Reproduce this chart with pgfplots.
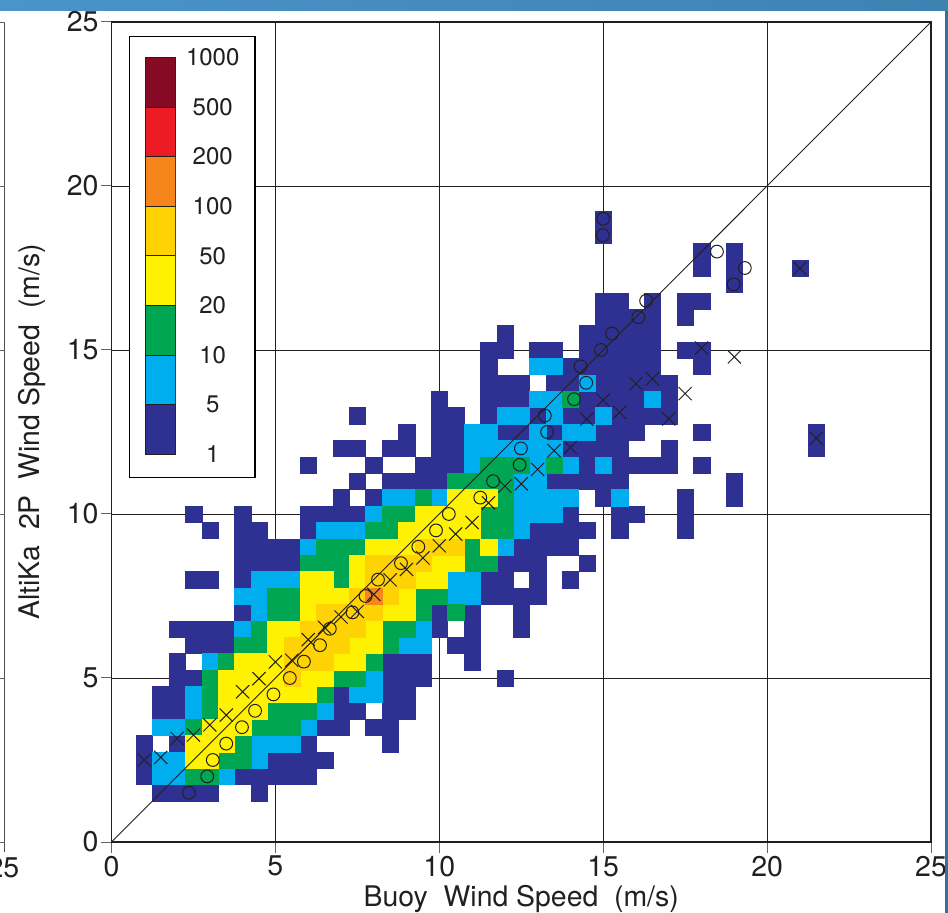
\documentclass[border=0pt]{standalone}
\usepackage{pgfplots}
\pgfplotsset{compat=1.18}
\usepackage{fontspec}
\setmainfont{TeX Gyre Heros}
\definecolor{cB}{HTML}{2E3192}
\definecolor{cC}{HTML}{00AEEF}
\definecolor{cG}{HTML}{00A651}
\definecolor{cY}{HTML}{FFF200}
\definecolor{cO}{HTML}{FFD204}
\definecolor{cR}{HTML}{F7861A}
\definecolor{cRed}{HTML}{ED1C24}
\definecolor{cD}{HTML}{870A24}
\definecolor{ink}{HTML}{231F20}
\definecolor{bandL}{HTML}{4A94C8}
\definecolor{bandR}{HTML}{3E82B2}
\definecolor{bandS}{HTML}{33709E}
\pgfplotsset{cell/.style={only marks,mark=square*,mark size=8.15pt,mark options={draw=#1,fill=#1,line width=0.2pt}}}
\begin{document}
\begin{tikzpicture}
\begin{axis}[
  at={(111.5pt,71pt)},anchor=south west,
  scale only axis,width=819.5pt,height=820pt,
  xmin=0,xmax=25,ymin=0,ymax=25,
  xtick={0,5,...,25},ytick={0,5,...,25},
  grid=major,grid style={ink,line width=0.9pt},
  axis on top,
  axis line style={ink,line width=1.4pt},
  tick align=outside,major tick length=10.5pt,
  tick style={ink!70,line width=1pt},
  xtick pos=bottom,ytick pos=left,
  /pgf/number format/assume math mode=true,
  tick label style={font=\fontsize{28.5}{32}\selectfont,text=ink},
  xticklabel style={yshift=0pt},
  yticklabel style={xshift=1pt},
  xlabel={Buoy\ \ Wind Speed\ \ (m/s)},
  ylabel={AltiKa\ \ 2P\ \ Wind Speed\ \ (m/s)},
  label style={font=\fontsize{28.4}{32}\selectfont,text=ink},
  xlabel style={at={(axis description cs:0.5,0)},anchor=north,yshift=-40pt},
  ylabel style={at={(axis description cs:0,0.5)},anchor=south,yshift=62pt},
]
\addplot[cell=cB] coordinates {
(1.5,1.5)(2,1.5)(2.5,1.5)(3,1.5)(4.5,1.5)
(1,2)(4,2)(4.5,2)(5,2)(5.5,2)(6,2)
(1,2.5)(5,2.5)(5.5,2.5)(6,2.5)(6.5,2.5)
(1,3)(2,3)(6,3)(8.5,3)
(6.5,3.5)(7,3.5)(8,3.5)(8.5,3.5)
(1.5,4)(2,4)(7,4)(7.5,4)(8.5,4)(9,4)
(1.5,4.5)(2,4.5)(7,4.5)(8.5,4.5)(9,4.5)
(2,5)(2.5,5)(8.5,5)(9,5)(9.5,5)(12,5)
(2,5.5)(8.5,5.5)(9,5.5)(9.5,5.5)(11,5.5)
(2.5,6)(3,6)(3.5,6)(10.5,6)(11,6)
(2,6.5)(2.5,6.5)(3,6.5)(3.5,6.5)(10,6.5)(11,6.5)(12.5,6.5)
(4,7)(10,7)(11,7)(12.5,7)
(11.5,7.5)(12,7.5)(12.5,7.5)(13,7.5)
(2.5,8)(3,8)(4,8)(11.5,8)(12,8)(13,8)(14,8)
(4,8.5)(4.5,8.5)(5,8.5)(5.5,8.5)(12,8.5)(12.5,8.5)(13,8.5)(14.5,8.5)
(4,9)(4.5,9)(5,9)(5.5,9)(12.5,9)(13,9)(13.5,9)(14,9)
(3,9.5)(4,9.5)(4.5,9.5)(6,9.5)(13,9.5)(13.5,9.5)(14,9.5)(14.5,9.5)(15.5,9.5)(17.5,9.5)
(2.5,10)(4,10)(6,10)(6.5,10)(7,10)(7.5,10)(14,10)(15.5,10)(16,10)(17.5,10)
(7,10.5)(8,10.5)(15,10.5)(17.5,10.5)(19,10.5)
(7.5,11)(8.5,11)(9,11)(9.5,11)(10,11)(13.5,11)(14,11)(14.5,11)(15,11)(15.5,11)(19,11)
(6,11.5)(8,11.5)(9.5,11.5)(10,11.5)(10.5,11.5)(14.5,11.5)(15.5,11.5)(16,11.5)(16.5,11.5)(17,11.5)(18,11.5)
(7,12)(7.5,12)(8.5,12)(9,12)(10,12)(10.5,12)(14,12)(14.5,12)(15,12)(15.5,12)(17,12)(21.5,12)
(9,12.5)(10,12.5)(10.5,12.5)(12,12.5)(12.5,12.5)(13.5,12.5)(15,12.5)(15.5,12.5)(16,12.5)(18,12.5)(21.5,12.5)
(7.5,13)(10,13)(10.5,13)(11.5,13)(13,13)(14,13)(14.5,13)(15.5,13)(16,13)(16.5,13)(17,13)
(10,13.5)(11.5,13.5)(12,13.5)(12.5,13.5)(14.5,13.5)(15,13.5)(15.5,13.5)(16,13.5)(17,13.5)
(11.5,14)(12,14)(12.5,14)(13.5,14)(14,14)(15,14)(15.5,14)(16,14)(16.5,14)(17,14)
(11.5,14.5)(14,14.5)(14.5,14.5)(15,14.5)(15.5,14.5)(16,14.5)(16.5,14.5)(18,14.5)
(11.5,15)(12,15)(13,15)(13.5,15)(14.5,15)(15,15)(15.5,15)(16,15)(16.5,15)(17.5,15)(18,15)
(12,15.5)(14.5,15.5)(15,15.5)(15.5,15.5)(16,15.5)(16.5,15.5)
(15,16)(15.5,16)(16,16)(16.5,16)(17.5,16)
(15,16.5)(15.5,16.5)(16.5,16.5)(17.5,16.5)(18,16.5)
(19,17)
(18,17.5)(19,17.5)(21,17.5)
(18,18)(19,18)
(15,18.5)
(15,19)
};
\addplot[cell=cC] coordinates {
(1.5,2)(2,2)(3.5,2)
(1.5,2.5)(2,2.5)(4.5,2.5)
(4.5,3)(5,3)(5.5,3)
(1.5,3.5)(2,3.5)(6,3.5)
(2.5,4)(6.5,4)
(2.5,4.5)(7.5,4.5)(8,4.5)
(8,5)
(3,5.5)
(9,6)(9.5,6)
(4,6.5)(9.5,6.5)
(4.5,7)
(4,7.5)(4.5,7.5)(10.5,7.5)(11,7.5)
(4.5,8)(5,8)(5.5,8)(10.5,8)(11,8)
(6,9)(12,9)
(6.5,9.5)(7,9.5)(7.5,9.5)(12.5,9.5)
(8,10)(12.5,10)(13,10)(13.5,10)
(8.5,10.5)(9,10.5)(10,10.5)(12.5,10.5)(13,10.5)(13.5,10.5)(14,10.5)(15.5,10.5)
(12.5,11)(13,11)
(11,11.5)(13,11.5)(14,11.5)(15,11.5)
(11,12)(11.5,12)(12,12)(12.5,12)(13,12)(13.5,12)
(11,12.5)(11.5,12.5)(13,12.5)(14,12.5)(14.5,12.5)
(12,13)(12.5,13)(13.5,13)(15,13)
(13,13.5)(13.5,13.5)(16.5,13.5)
(14.5,14)
(13,14.5)(13.5,14.5)
};
\addplot[cell=cG] coordinates {
(2.5,2)(3,2)
(3.5,2.5)(4,2.5)
(4,3)
(2.5,3.5)(4.5,3.5)(5,3.5)(5.5,3.5)
(3,4)(5,4)(5.5,4)(6,4)
(3,4.5)(6.5,4.5)
(3,5)(7,5)(7.5,5)
(3.5,5.5)(8,5.5)
(4,6)(4.5,6)(8.5,6)
(4.5,6.5)(8.5,6.5)(9,6.5)
(5,7)(5.5,7)(9.5,7)(10.5,7)
(5,7.5)(5.5,7.5)(9.5,7.5)(10,7.5)
(7,8)
(6,8.5)(6.5,8.5)(7,8.5)(11,8.5)(11.5,8.5)
(6.5,9)(7,9)(7.5,9)(11,9)
(8,9.5)(8.5,9.5)(11.5,9.5)(12,9.5)
(8.5,10)(9,10)(11.5,10)(12,10)
(9.5,10.5)(12,10.5)
(10.5,11)(11,11)(11.5,11)(12,11)
(11.5,11.5)(12,11.5)(12.5,11.5)(13.5,11.5)
(14,13.5)
};
\addplot[cell=cY] coordinates {
(2.5,2.5)(3,2.5)
(2.5,3)(3,3)(3.5,3)
(3,3.5)(3.5,3.5)(4,3.5)
(3.5,4)(4,4)(4.5,4)
(3.5,4.5)(4,4.5)(4.5,4.5)(5,4.5)(5.5,4.5)(6,4.5)
(3.5,5)(4,5)(4.5,5)(5,5)(6,5)(6.5,5)
(4,5.5)(4.5,5.5)(5,5.5)(7,5.5)(7.5,5.5)
(5,6)(7.5,6)(8,6)
(5,6.5)(5.5,6.5)(8,6.5)
(6,7)(8.5,7)(9,7)
(6,7.5)(6.5,7.5)(7,7.5)(9,7.5)
(6,8)(6.5,8)(7.5,8)(9.5,8)(10,8)
(7.5,8.5)(10,8.5)(10.5,8.5)
(8,9)(8.5,9)(9,9)(11.5,9)
(9,9.5)(9.5,9.5)(10,9.5)(10.5,9.5)(11,9.5)
(9.5,10)(10,10)(10.5,10)(11,10)
(10.5,10.5)(11,10.5)(11.5,10.5)
};
\addplot[cell=cO] coordinates {
(5.5,5)
(5.5,5.5)(6,5.5)(6.5,5.5)
(5.5,6)(6,6)(6.5,6)(7,6)
(6,6.5)(6.5,6.5)(7,6.5)(7.5,6.5)
(6.5,7)(7,7)(7.5,7)(8,7)
(7.5,7.5)(8.5,7.5)
(8,8)(8.5,8)(9,8)
(8,8.5)(8.5,8.5)(9,8.5)(9.5,8.5)
(9.5,9)(10,9)(10.5,9)
};
\addplot[cell=cR] coordinates {(8,7.5)};
\end{axis}
% diagonal and bin means, above the cells
\begin{axis}[
  at={(111.5pt,71pt)},anchor=south west,
  scale only axis,width=819.5pt,height=820pt,
  xmin=0,xmax=25,ymin=0,ymax=25,hide axis,
]
\addplot[ink,line width=0.9pt] coordinates {(0,0)(25,25)};
\addplot[only marks,mark=o,mark size=6.4pt,mark options={draw=ink,line width=1pt,fill=none}] coordinates {
(2.36,1.5)(2.92,2)(3.09,2.5)(3.5,3)(3.98,3.5)(4.38,4)(4.94,4.5)(5.44,5)(5.87,5.5)(6.36,6)(6.66,6.5)
(7.35,7)(7.75,7.5)(8.13,8)(8.83,8.5)(9.36,9)(9.9,9.5)(10.29,10)(11.25,10.5)(11.64,11)(12.45,11.5)
(12.49,12)(13.29,12.5)(13.22,13)(14.11,13.5)(14.48,14)(14.31,14.5)(14.93,15)(15.27,15.5)(16.07,16)
(16.31,16.5)(18.98,17)(19.32,17.5)(18.47,18)(14.99,18.5)(15,19)};
\addplot[only marks,mark=x,mark size=9.3pt,mark options={draw=ink,line width=1pt}] coordinates {
(1,2.5)(1.5,2.58)(2,3.16)(2.5,3.26)(3,3.57)(3.5,3.87)(4,4.58)(4.5,4.98)(5,5.49)(5.5,5.54)(6,6.17)
(6.5,6.54)(7,6.86)(7.5,7.03)(8,7.55)(8.5,7.99)(9,8.31)(9.5,8.66)(10,9.03)(10.5,9.39)(11,9.74)
(11.5,10.34)(12,10.85)(12.5,10.92)(13,11.36)(13.5,11.93)(14,12.03)(14.5,12.89)(15,13.47)(15.5,13.1)
(16,13.97)(16.5,14.12)(17,12.9)(17.5,13.67)(18,15.06)(19,14.79)(21,17.49)(21.5,12.31)};
\end{axis}
% legend box
\fill[white] (129.5pt,435.5pt) rectangle (255pt,876.5pt);
\draw[black,line width=1.4pt] (129.5pt,435.5pt) rectangle (255pt,876.5pt);
\begin{axis}[
  at={(145.5pt,458.7pt)},anchor=south west,
  scale only axis,width=30.2pt,height=397pt,
  xmin=0,xmax=1,ymin=0,ymax=8,
  xtick=\empty,ytick={0,...,8},
  yticklabels={1,5,10,20,50,100,200,500,1000},
  ytick pos=right,yticklabel pos=right,
  major tick length=0pt,
  axis line style={ink,line width=0.6pt},
  yticklabel style={font=\fontsize{24}{27}\selectfont,text=ink,anchor=center,xshift=37pt},
]
\addplot[fill=cB,draw=ink,line width=0.6pt] coordinates {(0,0)(1,0)(1,1)(0,1)} --cycle;
\addplot[fill=cC,draw=ink,line width=0.6pt] coordinates {(0,1)(1,1)(1,2)(0,2)} --cycle;
\addplot[fill=cG,draw=ink,line width=0.6pt] coordinates {(0,2)(1,2)(1,3)(0,3)} --cycle;
\addplot[fill=cY,draw=ink,line width=0.6pt] coordinates {(0,3)(1,3)(1,4)(0,4)} --cycle;
\addplot[fill=cO,draw=ink,line width=0.6pt] coordinates {(0,4)(1,4)(1,5)(0,5)} --cycle;
\addplot[fill=cR,draw=ink,line width=0.6pt] coordinates {(0,5)(1,5)(1,6)(0,6)} --cycle;
\addplot[fill=cRed,draw=ink,line width=0.6pt] coordinates {(0,6)(1,6)(1,7)(0,7)} --cycle;
\addplot[fill=cD,draw=ink,line width=0.6pt] coordinates {(0,7)(1,7)(1,8)(0,8)} --cycle;
\end{axis}
% neighbouring panel edge at far left
\draw[ink!80,line width=1pt] (4.7pt,61pt) -- (4.7pt,891pt);
\foreach \yy in {71,235,399,563,727,891} \draw[ink!70,line width=0.8pt] (0pt,\yy pt) -- (4.7pt,\yy pt);
\node[font=\fontsize{28.5}{32}\selectfont,text=ink,anchor=base] at (3.5pt,35pt) {25};
% page frame of the source slide
\shade[left color=bandL,right color=bandR] (0pt,902pt) rectangle (948pt,913pt);
\fill[bandS] (945pt,0pt) rectangle (948pt,902pt);
\pgfresetboundingbox
\useasboundingbox (0pt,0pt) rectangle (948pt,913pt);
\end{tikzpicture}
\end{document}
